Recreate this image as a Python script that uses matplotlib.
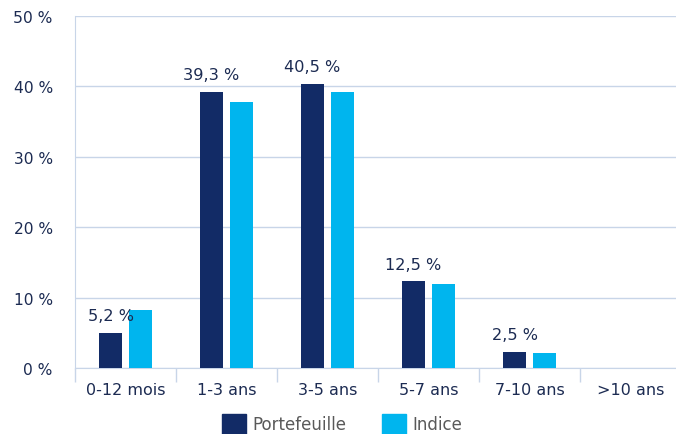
import numpy as np
import matplotlib.pyplot as plt
from matplotlib.patches import Patch

categories = ["0-12 mois", "1-3 ans", "3-5 ans", "5-7 ans", "7-10 ans", ">10 ans"]
portefeuille = [5.0, 39.2, 40.4, 12.3, 2.3, 0.0]
indice = [8.2, 37.8, 39.2, 11.9, 2.1, 0.0]
labels = ["5,2 %", "39,3 %", "40,5 %", "12,5 %", "2,5 %", ""]
yticks = [0, 10, 20, 30, 40, 50]

navy = "#122B66"
cyan = "#00B5EE"
grid_c = "#C8D5E8"
text_c = "#1C2B52"

fig = plt.figure(figsize=(6.76, 4.35), dpi=100)
ax = fig.add_axes([75 / 676, 66 / 435, 606 / 676, 352 / 435])

x = np.arange(len(categories))
w = 0.232
off = 0.148
ax.bar(x - off, portefeuille, w, color=navy, zorder=3)
ax.bar(x + off, indice, w, color=cyan, zorder=3)

for xi, v, lab in zip(x, portefeuille, labels):
    if lab:
        ax.text(xi - off, v + 1.4, lab, ha="center", va="bottom",
                fontsize=11.6, color=text_c)

ax.set_xlim(-0.5, len(categories) - 0.5)
ax.set_ylim(0, 50)
ax.set_yticks(yticks)
ax.set_yticklabels([f"{t} %" for t in yticks], fontsize=11.2, color=text_c)
ax.set_xticks(x)
ax.set_xticklabels(categories, fontsize=11.5, color=text_c)
ax.set_xticks(np.arange(-0.5, len(categories)), minor=True)
ax.tick_params(axis="x", which="major", length=0, pad=10)
ax.tick_params(axis="x", which="minor", length=10, color=grid_c, width=1)
ax.tick_params(axis="y", length=0, pad=16)

ax.yaxis.grid(True, color=grid_c, linewidth=1, zorder=0)
for s in ["top", "right"]:
    ax.spines[s].set_visible(False)
ax.spines["left"].set_color(grid_c)
ax.spines["bottom"].set_color(grid_c)

handles = [Patch(color=navy, label="Portefeuille"), Patch(color=cyan, label="Indice")]
fig.legend(handles=handles, loc="upper left", bbox_to_anchor=(222 / 676, 20 / 435),
           ncol=2, frameon=False, fontsize=12, labelcolor="#595959",
           borderpad=0, borderaxespad=0,
           handlelength=1.45, handleheight=1.45, handletextpad=0.4,
           columnspacing=2.1)

fig.savefig("out.png", dpi=100)
